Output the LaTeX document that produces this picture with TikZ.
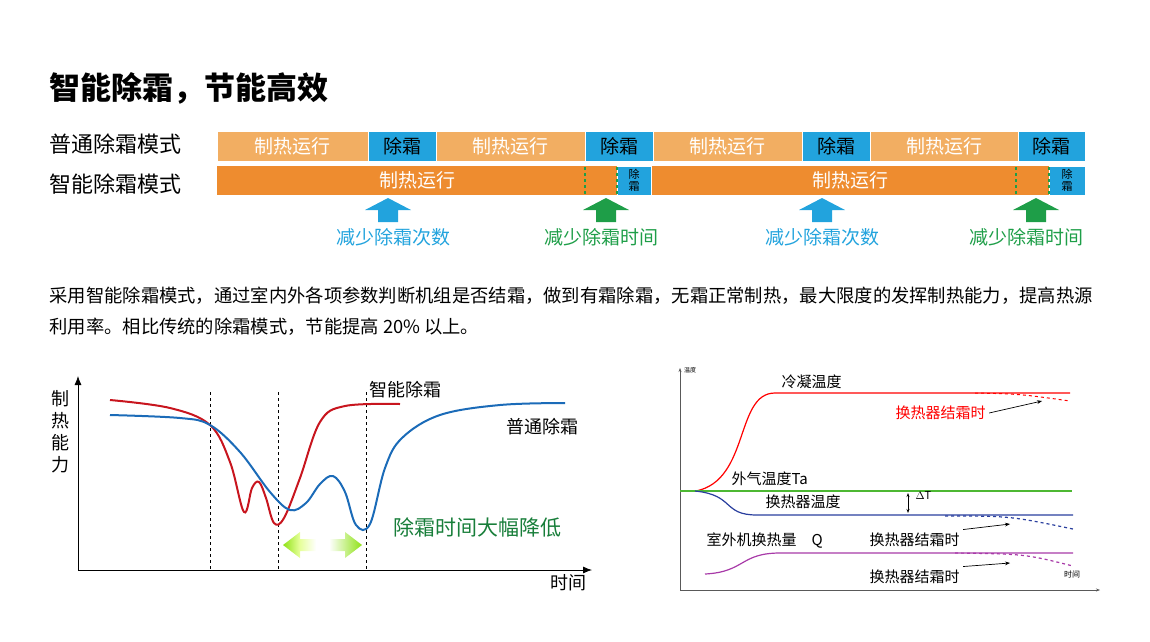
\documentclass[tikz,border=0pt]{standalone}
\usepackage{fontspec}
\setmainfont{Noto Sans CJK SC}
\usetikzlibrary{arrows.meta}
\definecolor{lightorg}{HTML}{F2AE62}
\definecolor{darkorg}{HTML}{EE8C2F}
\definecolor{defblue}{HTML}{22A3DD}
\definecolor{optgreen}{HTML}{1E9E48}
\definecolor{curvered}{HTML}{C8151E}
\definecolor{curveblue}{HTML}{1B6BB8}
\definecolor{airgreen}{HTML}{4DB833}
\definecolor{hexblue}{HTML}{2A3F9E}
\definecolor{qpurple}{HTML}{A83AA8}
\tikzset{gainup/.pic={\fill (-10,11) -- (-10,-1) -- (-23,-1) -- (0,-13) -- (23,-1) -- (10,-1) -- (10,11) -- cycle;}}
\begin{document}
\begin{tikzpicture}[x=1pt,y=-1pt,
  seg/.style={draw=white,line width=0.6pt},
  heattxt/.style={text=white,font=\fontsize{19}{19}\selectfont},
  deftxt/.style={text=black,font=\fontsize{19}{19}\selectfont},
  tinytxt/.style={text=black,font=\fontsize{11}{12}\selectfont,align=center},
  gaintxt/.style={font=\fontsize{19}{19}\selectfont},
  rtxt/.style={font=\fontsize{15}{15}\selectfont,anchor=west}]
  \useasboundingbox (0,0) rectangle (1150,641);

  %% title and row labels
  \node[anchor=west,font=\fontsize{31}{31}\selectfont\bfseries] (title) at (46,88) {智能除霜，节能高效};
  \node[anchor=west,font=\fontsize{22}{22}\selectfont] (rowA) at (46,144) {普通除霜模式};
  \node[anchor=west,font=\fontsize{22}{22}\selectfont] (rowB) at (46,184) {智能除霜模式};

  %% row 1: ordinary defrost
  \foreach \a/\b in {217/368,436/585,653/802,870/1018}
    \fill[lightorg,seg] (\a,131) rectangle (\b,161) node[heattxt,midway] {制热运行};
  \foreach \a/\b in {368/436,585/653,802/870,1018/1085}
    \fill[defblue,seg] (\a,131) rectangle (\b,161) node[deftxt,midway] {除霜};

  %% row 2: smart defrost
  \fill[darkorg] (217,166) rectangle (617,195) node[heattxt,midway] {制热运行};
  \fill[darkorg] (651,166) rectangle (1049,195) node[heattxt,midway] {制热运行};
  \foreach \a/\b in {617/651,1049/1085}
    \fill[defblue,seg] (\a,166) rectangle (\b,195) node[tinytxt,midway] {除\\霜};
  \foreach \x in {585,617,1016,1049}
    \draw[optgreen,dashed,line width=1.2pt] (\x,167) -- (\x,194);

  %% gain arrows
  \pic[fill=defblue] (gainA) at (388,211) {gainup};
  \pic[fill=optgreen] (gainB) at (606,211) {gainup};
  \pic[fill=defblue] (gainC) at (822,211) {gainup};
  \pic[fill=optgreen] (gainD) at (1036,211) {gainup};
  \node[gaintxt,text=defblue] (gainAt) at (393,237) {减少除霜次数};
  \node[gaintxt,text=optgreen] (gainBt) at (601,237) {减少除霜时间};
  \node[gaintxt,text=defblue] (gainCt) at (822,237) {减少除霜次数};
  \node[gaintxt,text=optgreen] (gainDt) at (1026,237) {减少除霜时间};

  %% paragraph
  \node[anchor=west,font=\fontsize{18.3}{18.3}\selectfont] (para1) at (46,296)
    {采用智能除霜模式，通过室内外各项参数判断机组是否结霜，做到有霜除霜，无霜正常制热，最大限度的发挥制热能力，提高热源};
  \node[anchor=west,font=\fontsize{18.3}{18.3}\selectfont] (para2) at (46,327)
    {利用率。相比传统的除霜模式，节能提高 20\% 以上。};

  %% left chart
  \coordinate (lo) at (78,570);
  \draw[-{Latex[length=9pt,width=7pt]},line width=0.8pt] (lo) -- (78,376);
  \draw[-{Latex[length=9pt,width=7pt]},line width=0.8pt] (lo) -- (592,570);
  \node[font=\fontsize{18}{22}\selectfont,align=center] (ylab) at (60,432) {制\\热\\能\\力};
  \node[font=\fontsize{18}{18}\selectfont] (xlab) at (568,583) {时间};
  \foreach \x in {210,278,366}
    \draw[dashed,line width=0.7pt] (\x,392) -- (\x,570);
  \draw[curvered,line width=2pt] plot[smooth,tension=0.6] coordinates {(110,400) (170,408) (210,425) (230,462)
    (244,512) (252,488) (259,482) (266,498) (274,523) (284,518) (300,478) (320,422) (345,406) (400,404)};
  \draw[curveblue,line width=2pt] plot[smooth,tension=0.6] coordinates {(110,415) (180,418) (210,425) (240,452)
    (270,492) (290,510) (306,503) (320,484) (333,476) (345,492) (356,525) (370,524) (385,468) (402,438)
    (440,415) (500,405) (565,403)};
  \node[font=\fontsize{18}{18}\selectfont] (redlab) at (405,390) {智能除霜};
  \node[font=\fontsize{18}{18}\selectfont] (bluelab) at (542,427) {普通除霜};
  \node[font=\fontsize{21}{21}\selectfont,text=optgreen!80!black] (gaptxt) at (477,527) {除霜时间大幅降低};
  \shade[left color=optgreen!30!lime,right color=white,middle color=white!60!lime]
    (283,545) -- (300,532) -- (300,539) -- (316,539) -- (316,551) -- (300,551) -- (300,558) -- cycle;
  \shade[left color=white,right color=optgreen!30!lime]
    (362,545) -- (345,532) -- (345,539) -- (329,539) -- (329,551) -- (345,551) -- (345,558) -- cycle;

  %% right chart
  \coordinate (ro) at (680,590);
  \draw[-{Stealth[length=4pt]},gray!70!black,line width=0.5pt] (ro) -- (680,368);
  \draw[-{Stealth[length=4pt]},gray!70!black,line width=0.5pt] (ro) -- (1100,590);
  \node[font=\fontsize{6}{6}\selectfont] (rylab) at (690,370) {温度};
  \node[font=\fontsize{8}{8}\selectfont] (rxlab) at (1072,574) {时间};
  % condensing
  \draw[red,line width=1.2pt] (696,491) .. controls (750,480) and (735,393) .. (775,393) -- (1070,393);
  \draw[red,dashed,line width=1pt] (975,393) .. controls (1020,394) .. (1070,401);
  \node[rtxt] (condlab) at (778,382) {冷凝温度};
  \node[rtxt,text=red] (condfr) at (892,413) {换热器结霜时};
  \draw[-{Stealth[length=5pt]},line width=0.7pt] (condfr.east) -- (1042,401);
  % outdoor air
  \draw[airgreen,line width=1.2pt] (680,491) -- (1072,491);
  \node[rtxt] (airlab) at (728,479) {外气温度Ta};
  % exchanger
  \draw[hexblue,line width=1.2pt] (695,491) .. controls (735,495) and (722,515) .. (757,515) -- (1073,515);
  \draw[hexblue,dashed,line width=1.2pt] (945,516) .. controls (1010,516) .. (1073,529);
  \node[rtxt] (hexlab) at (762,502) {换热器温度};
  \node[rtxt,font=\fontsize{11}{11}\selectfont] (dT) at (912,495) {$\Delta$T};
  \draw[{Stealth[length=4pt]}-{Stealth[length=4pt]},line width=0.8pt] (908,493) -- (908,513);
  \node[rtxt] (qlab) at (703,540) {室外机换热量\quad Q};
  \node[rtxt] (hexfr) at (866,540) {换热器结霜时};
  \draw[-{Stealth[length=5pt]},line width=0.7pt] (hexfr.north east) -- (1010,524);
  % heat quantity
  \draw[qpurple,line width=1.2pt] (705,574) .. controls (745,572) and (740,553) .. (780,553) -- (1073,553);
  \draw[qpurple,dashed,line width=1.2pt] (955,553) .. controls (1025,554) .. (1073,566);
  \node[rtxt] (qfr) at (866,577) {换热器结霜时};
  \draw[-{Stealth[length=5pt]},line width=0.7pt] (qfr.north east) -- (1010,563);
\end{tikzpicture}
\end{document}
